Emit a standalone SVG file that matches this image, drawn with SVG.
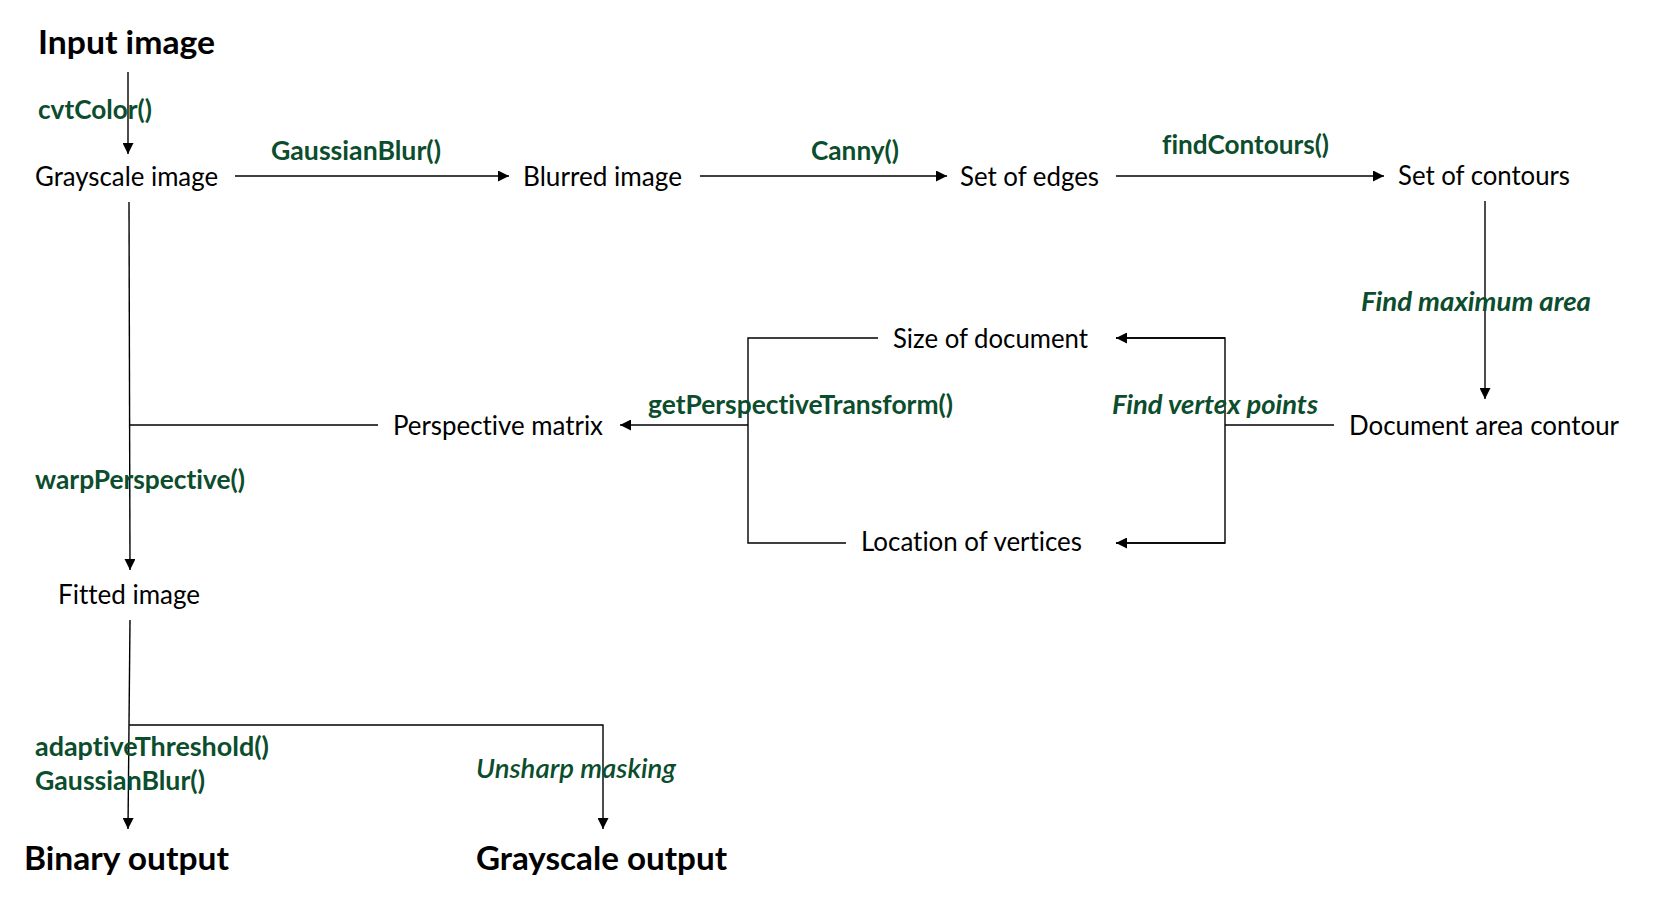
<svg xmlns="http://www.w3.org/2000/svg" width="1662" height="913" viewBox="0 0 1662 913">
<style>
text{font-family:Lato,"Noto Sans",sans-serif;font-variant-ligatures:none}
.n{font-size:26px;fill:#000}
.t{font-size:33px;font-weight:bold;fill:#000}
.g{font-size:26px;font-weight:bold;fill:#0b4d2c}
.gi{font-size:26px;font-weight:bold;font-style:italic;fill:#0b4d2c}
.c{stroke:#000;stroke-width:1.4;fill:none}
</style>
<defs>
<marker id="ah" markerUnits="userSpaceOnUse" markerWidth="11" markerHeight="11" refX="11" refY="5.5" orient="auto">
<path d="M0,0 L11,5.5 L0,11 z" fill="#000"/>
</marker>
</defs>
<rect width="1662" height="913" fill="#fff"/>
<g id="connectors">
<line class="c" x1="128" y1="72" x2="128" y2="154" marker-end="url(#ah)"/>
<line class="c" x1="235" y1="176" x2="509" y2="176" marker-end="url(#ah)"/>
<line class="c" x1="700" y1="176" x2="947" y2="176" marker-end="url(#ah)"/>
<line class="c" x1="1116" y1="176" x2="1384" y2="176" marker-end="url(#ah)"/>
<line class="c" x1="1485" y1="201" x2="1485" y2="399" marker-end="url(#ah)"/>
<polyline class="c" points="1334,425 1225,425"/>
<polyline class="c" points="1116,338 1225,338 1225,543 1116,543"/>
<line class="c" x1="1225" y1="338" x2="1116" y2="338" marker-end="url(#ah)"/>
<line class="c" x1="1225" y1="543" x2="1116" y2="543" marker-end="url(#ah)"/>
<polyline class="c" points="878,338 748,338 748,543 846,543"/>
<line class="c" x1="748" y1="425" x2="620" y2="425" marker-end="url(#ah)"/>
<line class="c" x1="378" y1="425" x2="129" y2="425"/>
<line class="c" x1="129" y1="202" x2="130" y2="570" marker-end="url(#ah)"/>
<line class="c" x1="130" y1="620" x2="129" y2="725"/>
<line class="c" x1="129" y1="725" x2="128" y2="829" marker-end="url(#ah)"/>
<polyline class="c" points="129,725 603,725 603,829" marker-end="url(#ah)"/>
</g>
<g id="input"><text class="t" x="38" y="54" textLength="177" lengthAdjust="spacingAndGlyphs">Input image</text></g>
<g id="lbl-cvt"><text class="g" x="38" y="119" textLength="114" lengthAdjust="spacingAndGlyphs">cvtColor()</text></g>
<g id="gray"><text class="n" x="35" y="186" textLength="183" lengthAdjust="spacingAndGlyphs">Grayscale image</text></g>
<g id="lbl-blur"><text class="g" x="271" y="160" textLength="170" lengthAdjust="spacingAndGlyphs">GaussianBlur()</text></g>
<g id="blurred"><text class="n" x="523" y="186" textLength="159" lengthAdjust="spacingAndGlyphs">Blurred image</text></g>
<g id="lbl-canny"><text class="g" x="811" y="160" textLength="88" lengthAdjust="spacingAndGlyphs">Canny()</text></g>
<g id="edges"><text class="n" x="960" y="186" textLength="139" lengthAdjust="spacingAndGlyphs">Set of edges</text></g>
<g id="lbl-find"><text class="g" x="1162" y="154" textLength="167" lengthAdjust="spacingAndGlyphs">findContours()</text></g>
<g id="contours"><text class="n" x="1398" y="185" textLength="172" lengthAdjust="spacingAndGlyphs">Set of contours</text></g>
<g id="lbl-max"><text class="gi" x="1361" y="311" textLength="230" lengthAdjust="spacingAndGlyphs">Find maximum area</text></g>
<g id="docarea"><text class="n" x="1349" y="435" textLength="270" lengthAdjust="spacingAndGlyphs">Document area contour</text></g>
<g id="lbl-vertex"><text class="gi" x="1112" y="414" textLength="206" lengthAdjust="spacingAndGlyphs">Find vertex points</text></g>
<g id="size"><text class="n" x="893" y="348" textLength="195" lengthAdjust="spacingAndGlyphs">Size of document</text></g>
<g id="location"><text class="n" x="861" y="551" textLength="221" lengthAdjust="spacingAndGlyphs">Location of vertices</text></g>
<g id="lbl-getp"><text class="g" x="648" y="414" textLength="305" lengthAdjust="spacingAndGlyphs">getPerspectiveTransform()</text></g>
<g id="persp"><text class="n" x="393" y="435" textLength="210" lengthAdjust="spacingAndGlyphs">Perspective matrix</text></g>
<g id="lbl-warp"><text class="g" x="35" y="489" textLength="210" lengthAdjust="spacingAndGlyphs">warpPerspective()</text></g>
<g id="fitted"><text class="n" x="58" y="604" textLength="142" lengthAdjust="spacingAndGlyphs">Fitted image</text></g>
<g id="lbl-adapt"><text class="g" x="35" y="756" textLength="234" lengthAdjust="spacingAndGlyphs">adaptiveThreshold()</text><text class="g" x="35" y="790" textLength="170" lengthAdjust="spacingAndGlyphs">GaussianBlur()</text></g>
<g id="lbl-unsharp"><text class="gi" x="476" y="778" textLength="200" lengthAdjust="spacingAndGlyphs" style="font-weight:600">Unsharp masking</text></g>
<g id="binary"><text class="t" x="24" y="870" textLength="205" lengthAdjust="spacingAndGlyphs">Binary output</text></g>
<g id="grayout"><text class="t" x="476" y="870" textLength="251" lengthAdjust="spacingAndGlyphs">Grayscale output</text></g>
</svg>
